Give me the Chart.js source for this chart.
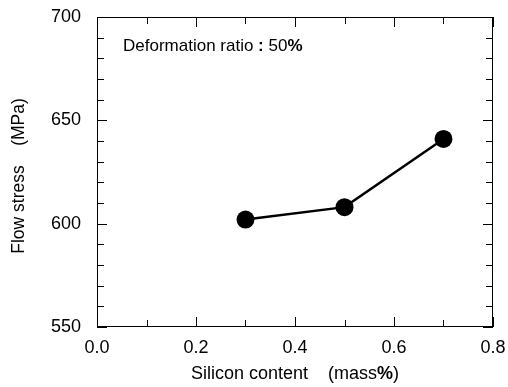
<!DOCTYPE html>
<html>
<head>
<meta charset="utf-8">
<script src="https://cdn.jsdelivr.net/npm/chart.js@4.4.1/dist/chart.umd.min.js"></script>
<style>
  html, body { margin: 0; padding: 0; background: #fff; }
  #wrap { width: 508px; height: 387px; }
</style>
</head>
<body>
<div id="wrap"><canvas id="flow"></canvas></div>
<script>
const siliconContent = [0.3, 0.5, 0.7];
const flowStress = [602, 608, 641];
const xTicks = [0.0, 0.2, 0.4, 0.6, 0.8];
const yTicks = [550, 600, 650, 700];

const FONT = '"Liberation Sans", Arial, Helvetica, sans-serif';

// draw a line of text made of normal / bold pieces
function drawRuns(ctx, runs, x, y, size) {
    let total = 0;
    runs.forEach(r => {
        ctx.font = (r.bold ? 'bold ' : '') + size + 'px ' + FONT;
        r.w = ctx.measureText(r.text).width;
        total += r.w;
    });
    let cx = x - total / 2;
    ctx.textAlign = 'left';
    runs.forEach(r => {
        ctx.font = (r.bold ? 'bold ' : '') + size + 'px ' + FONT;
        ctx.fillText(r.text, cx, y);
        cx += r.w;
    });
}

const frame = {
    id: 'frame',
    afterDraw(chart) {
        const ctx = chart.ctx;
        const a = chart.chartArea;
        const xs = chart.scales.x, ys = chart.scales.y;
        ctx.save();
        ctx.strokeStyle = '#000';
        ctx.lineWidth = 1;
        ctx.strokeRect(a.left + 0.5, a.top + 0.5, a.right - a.left - 1, a.bottom - a.top - 1);

        // inward ticks on all four sides
        ctx.beginPath();
        for (let i = 0; i <= 8; i++) {
            const v = i / 10;
            const px = Math.round(xs.getPixelForValue(v)) + 0.5;
            const len = i % 2 === 0 ? 10 : 7;
            ctx.moveTo(px, a.bottom); ctx.lineTo(px, a.bottom - len);
            ctx.moveTo(px, a.top); ctx.lineTo(px, a.top + len);
        }
        for (let v = 550; v <= 700; v += 10) {
            const py = Math.round(ys.getPixelForValue(v)) + 0.5;
            const len = v % 50 === 0 ? 10 : 7;
            ctx.moveTo(a.left, py); ctx.lineTo(a.left + len, py);
            ctx.moveTo(a.right, py); ctx.lineTo(a.right - len, py);
        }
        ctx.stroke();

        ctx.fillStyle = '#000';
        ctx.textBaseline = 'alphabetic';
        // annotation
        ctx.font = '17px ' + FONT;
        const t1 = 'Deformation ratio ';
        ctx.textAlign = 'left';
        ctx.fillText(t1, 123, 51);
        let cx = 123 + ctx.measureText(t1).width;
        ctx.font = 'bold 17px ' + FONT;
        ctx.fillText(':', cx, 51);
        cx += ctx.measureText(': ').width;
        ctx.font = '17px ' + FONT;
        ctx.fillText('50', cx, 51);
        cx += ctx.measureText('50').width;
        ctx.font = 'bold 17px ' + FONT;
        ctx.fillText('%', cx, 51);

        // axis titles
        const midX = (a.left + a.right) / 2;
        drawRuns(ctx, [{ text: 'Silicon content    (mass' }, { text: '%', bold: true }, { text: ')' }], midX, 379, 18);
        ctx.translate(24, (a.top + a.bottom) / 2 + 4);
        ctx.rotate(-Math.PI / 2);
        drawRuns(ctx, [{ text: 'Flow stress    (MPa)' }], 0, 0, 17.5);
        ctx.restore();
    }
};

new Chart(document.getElementById('flow').getContext('2d'), {
    type: 'scatter',
    data: {
        datasets: [{
            data: siliconContent.map((x, i) => ({ x: x, y: flowStress[i] })),
            showLine: true,
            borderColor: '#000',
            borderWidth: 2.5,
            backgroundColor: '#000',
            pointRadius: 9,
            pointHoverRadius: 9,
            pointBorderWidth: 0
        }]
    },
    options: {
        responsive: true,
        maintainAspectRatio: false,
        animation: false,
        events: [],
        layout: { padding: { left: 0, right: 15, top: 15, bottom: 0 } },
        plugins: {
            legend: { display: false },
            tooltip: { enabled: false }
        },
        scales: {
            x: {
                type: 'linear',
                min: 0, max: 0.8,
                afterBuildTicks: s => { s.ticks = xTicks.map(v => ({ value: v })); },
                afterFit: s => { s.height = 60; },
                grid: { display: false },
                border: { display: false },
                ticks: {
                    color: '#000',
                    padding: 2,
                    font: { family: FONT, size: 18 },
                    callback: v => v.toFixed(1)
                }
            },
            y: {
                min: 550, max: 700,
                afterBuildTicks: s => { s.ticks = yTicks.map(v => ({ value: v })); },
                afterFit: s => { s.width = 97; },
                grid: { display: false },
                border: { display: false },
                ticks: {
                    color: '#000',
                    padding: 8,
                    font: { family: FONT, size: 18, lineHeight: 1 }
                }
            }
        }
    },
    plugins: [frame]
});
</script>
</body>
</html>
